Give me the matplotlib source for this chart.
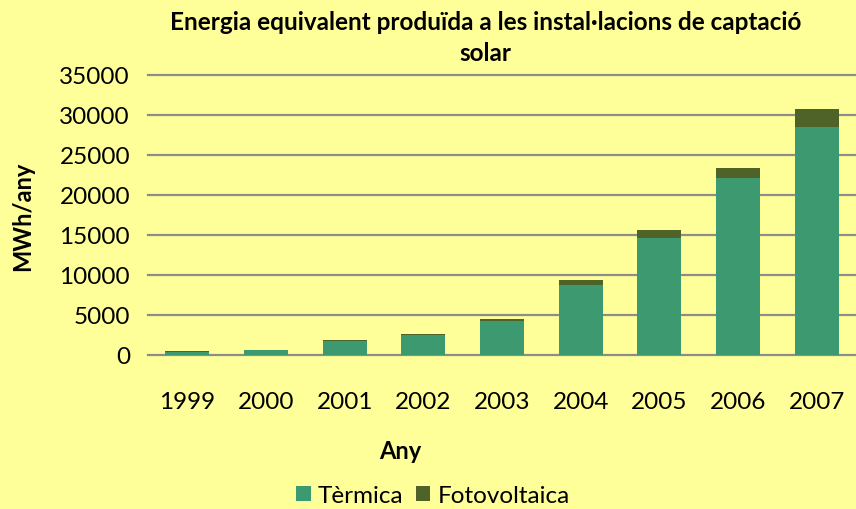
import matplotlib.pyplot as plt
import numpy as np

plt.rcParams['font.family'] = ['Lato', 'DejaVu Sans']

years = ['1999', '2000', '2001', '2002', '2003', '2004', '2005', '2006', '2007']
termica = [400, 600, 1800, 2500, 4300, 8700, 14650, 22150, 28500]
fotovoltaica = [80, 70, 100, 130, 200, 700, 1000, 1200, 2300]

bg = '#FFFF99'
fig = plt.figure(figsize=(8.56, 5.10), dpi=100, facecolor=bg)
ax = fig.add_axes([0.173, 0.302, 0.827, 0.549], facecolor=bg)

x = np.arange(len(years))
ax.bar(x, termica, width=0.56, color='#3D9970', label='Tèrmica', zorder=3)
ax.bar(x, fotovoltaica, width=0.56, bottom=termica, color='#4F6228',
       label='Fotovoltaica', zorder=3)

ax.set_xlim(-0.5, len(years) - 0.5)
ax.set_ylim(0, 35000)
ax.set_yticks(range(0, 35001, 5000))
ax.set_xticks(x)
ax.set_xticklabels(years)
ax.yaxis.grid(True, color='#8C8C8C', linewidth=1.6, zorder=0)
for gl in ax.get_ygridlines():
    gl.set_clip_on(False)
ax.tick_params(length=0, labelsize=17.5)
ax.tick_params(axis='x', pad=26)
ax.tick_params(axis='y', pad=13)
for s in ax.spines.values():
    s.set_visible(False)

fig.text(0.567, 0.925, "Energia equivalent produïda a les instal·lacions de captació\nsolar",
         ha='center', va='center', fontsize=17.5, fontweight='bold', linespacing=1.4)
fig.text(0.027, 0.576, 'MWh/any', rotation=90, ha='center', va='center',
         fontsize=17, fontweight='bold')
fig.text(0.467, 0.114, 'Any', ha='center', va='center', fontsize=17, fontweight='bold')

fig.legend(loc='center', bbox_to_anchor=(0.506, 0.026), ncol=2, frameon=False,
           fontsize=17.5, handlelength=0.6, handleheight=0.6, handletextpad=0.3,
           columnspacing=0.5)

fig.savefig('out.png', dpi=100, facecolor=bg)
